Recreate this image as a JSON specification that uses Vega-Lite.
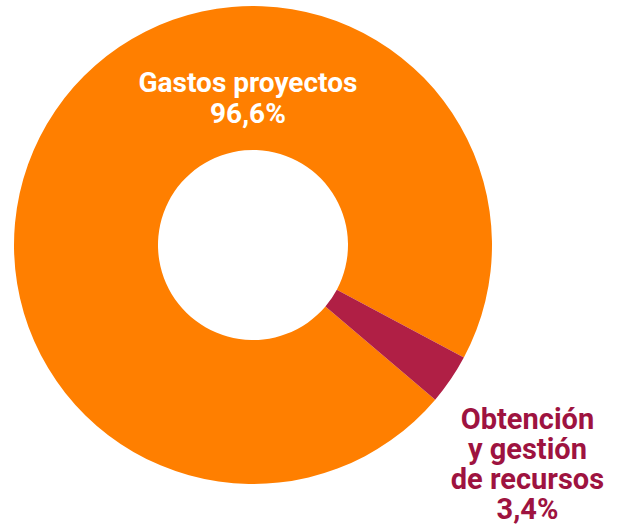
{
  "$schema": "https://vega.github.io/schema/vega-lite/v6.json",
  "width": 506,
  "height": 490,
  "padding": {"left": 0, "top": 0, "right": 113, "bottom": 41},
  "autosize": {"type": "none"},
  "background": "white",
  "view": {"stroke": null},
  "data": {
    "values": [
      {"cat": "Gastos proyectos", "value": 96.6, "label": ["Gastos proyectos", "96,6%"]},
      {"cat": "Obtención y gestión de recursos", "value": 3.4, "label": ["Obtención", "y gestión", "de recursos", "3,4%"]}
    ]
  },
  "encoding": {
    "theta": {"field": "value", "type": "quantitative", "stack": true, "scale": {"range": [2.061, 8.344]}},
    "order": {"field": "value", "type": "quantitative", "sort": "ascending"}
  },
  "layer": [
    {
      "mark": {"type": "arc", "outerRadius": 239, "innerRadius": 95},
      "encoding": {
        "color": {"field": "cat", "type": "nominal", "legend": null,
          "scale": {"domain": ["Gastos proyectos", "Obtención y gestión de recursos"], "range": ["#FF7F00", "#B01F45"]}}
      }
    },
    {
      "mark": {"type": "text", "radius": 150, "dx": 119, "dy": -69, "font": "Roboto", "fontWeight": "bold", "fontSize": 28, "lineHeight": 31, "align": "center", "baseline": "alphabetic", "color": "white"},
      "encoding": {
        "text": {"condition": {"test": "datum.cat === 'Gastos proyectos'", "field": "label"}, "value": ""}
      }
    },
    {
      "mark": {"type": "text", "radius": 350, "dx": -15, "dy": -13, "font": "Roboto", "fontWeight": "bold", "fontSize": 29, "lineHeight": 30, "align": "center", "baseline": "alphabetic", "color": "#9E1340"},
      "encoding": {
        "text": {"condition": {"test": "datum.cat !== 'Gastos proyectos'", "field": "label"}, "value": ""}
      }
    }
  ]
}
